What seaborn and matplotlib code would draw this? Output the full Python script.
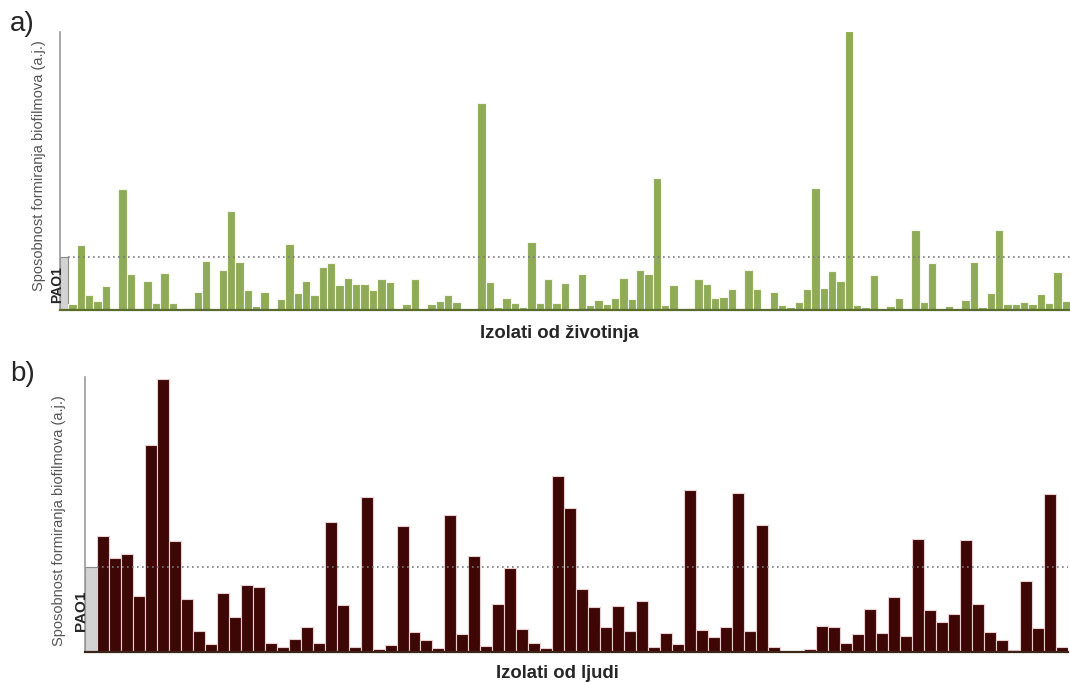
import numpy as np
import pandas as pd
import matplotlib
matplotlib.use("Agg")
import matplotlib.pyplot as plt
import seaborn as sns

sns.set_theme(style="white")
plt.rcParams["font.family"] = ["Liberation Sans", "DejaVu Sans"]

# Biofilm formation (arbitrary units); first value is the PAO1 reference strain
pao1_animal = 1.58
animal_isolates = [
    0.17, 1.95, 0.45, 0.28, 0.72, 0.00, 3.62, 1.08, 0.04, 0.88,
    0.20, 1.10, 0.20, 0.00, 0.06, 0.55, 1.48, 0.00, 1.20, 2.96,
    1.44, 0.60, 0.13, 0.54, 0.04, 0.34, 1.99, 0.52, 0.87, 0.44,
    1.28, 1.42, 0.75, 0.96, 0.77, 0.79, 0.60, 0.92, 0.85, 0.00,
    0.18, 0.94, 0.00, 0.18, 0.27, 0.45, 0.25, 0.04, 0.04, 6.21,
    0.85, 0.08, 0.37, 0.22, 0.08, 2.04, 0.22, 0.92, 0.20, 0.82,
    0.00, 1.07, 0.16, 0.29, 0.18, 0.37, 0.96, 0.33, 1.19, 1.08,
    3.95, 0.14, 0.76, 0.04, 0.05, 0.93, 0.79, 0.35, 0.39, 0.62,
    0.04, 1.19, 0.64, 0.00, 0.54, 0.14, 0.08, 0.25, 0.64, 3.65,
    0.67, 1.17, 0.87, 8.38, 0.14, 0.08, 1.05, 0.00, 0.12, 0.37,
    0.00, 2.39, 0.23, 1.42, 0.00, 0.12, 0.00, 0.29, 1.44, 0.10,
    0.52, 2.41, 0.18, 0.18, 0.23, 0.18, 0.49, 0.22, 1.15, 0.28,
]

pao1_human = 2.55
human_isolates = [
    3.50, 2.83, 2.95, 1.70, 6.22, 8.19, 3.35, 1.61, 0.65, 0.25,
    1.79, 1.06, 2.01, 1.96, 0.28, 0.15, 0.40, 0.75, 0.28, 3.90,
    1.41, 0.15, 4.66, 0.09, 0.22, 3.79, 0.60, 0.37, 0.14, 4.11,
    0.54, 2.89, 0.20, 1.44, 2.54, 0.69, 0.28, 0.14, 5.30, 4.34,
    1.91, 1.35, 0.77, 1.38, 0.65, 1.53, 0.15, 0.57, 0.25, 4.86,
    0.66, 0.46, 0.75, 4.78, 0.63, 3.83, 0.17, 0.05, 0.05, 0.11,
    0.78, 0.75, 0.28, 0.55, 1.30, 0.58, 1.65, 0.49, 3.39, 1.27,
    0.90, 1.15, 3.36, 1.45, 0.61, 0.37, 0.06, 2.14, 0.73, 4.75,
    0.15,
]

ylabel_text = "Sposobnost formiranja biofilmova (a.j.)"
ref_label = "PAO1"
xlabel_animal = "Izolati od životinja"
xlabel_human = "Izolati od ljudi"

W, H = 1070, 682
fig = plt.figure(figsize=(W / 100, H / 100), dpi=100)


def px_axes(left, top, right, bottom):
    return fig.add_axes([left / W, 1 - bottom / H, (right - left) / W, (bottom - top) / H])


def draw_panel(ax, ref_value, values, bar_color, edge_color, base_color, ymax):
    labels = [ref_label] + [f"I{i + 1}" for i in range(len(values))]
    df = pd.DataFrame({
        "soj": labels,
        "vrijednost": [ref_value] + list(values),
        "grupa": ["ref"] + ["izolat"] * len(values),
    })
    sns.barplot(data=df, x="soj", y="vrijednost", hue="grupa",
                palette={"ref": "#d3d3d3", "izolat": bar_color},
                width=1.0, dodge=False, legend=False, ax=ax,
                edgecolor=edge_color, linewidth=0.8, saturation=1)
    # reference bar gets a grey outline
    ax.patches[0].set_edgecolor("#8a8a8a")
    n = len(values) + 1
    ax.plot([0.5, n - 0.5], [ref_value, ref_value], linestyle=(0, (1, 2)),
            color="#7a7a7a", lw=1.2, zorder=5)
    ax.set_xlim(-0.5, n - 0.5)
    ax.set_ylim(0, ymax)
    ax.set_xticks([])
    ax.set_yticks([])
    ax.set_xlabel("")
    ax.set_ylabel("")
    for s in ("top", "right"):
        ax.spines[s].set_visible(False)
    ax.spines["left"].set_color("#9a9a9a")
    ax.spines["left"].set_linewidth(1.2)
    ax.spines["bottom"].set_color(base_color)
    ax.spines["bottom"].set_linewidth(1.6)
    ax.patch.set_alpha(0)


ax_a = px_axes(60, 31.7, 1070, 310)
draw_panel(ax_a, pao1_animal, animal_isolates, "#8fab57", "#f4f7ec", "#5a6b30", 8.35)

ax_b = px_axes(85, 377.3, 1067.5, 652.3)
draw_panel(ax_b, pao1_human, human_isolates, "#3e0605", "#e9cfcf", "#3b2418", 8.25)

# panel letters
fig.text(10 / W, 1 - 24 / H, "a)", fontsize=20, ha="left", va="center")
fig.text(10 / W, 1 - 374 / H, "b)", fontsize=20, ha="left", va="center")

# axis titles
fig.text(39 / W, 1 - 166 / H, ylabel_text, rotation=90, fontsize=10.5,
         color="#555555", ha="center", va="center")
fig.text(59 / W, 1 - 521 / H, ylabel_text, rotation=90, fontsize=10.5,
         color="#555555", ha="center", va="center")

fig.text(57 / W, 1 - 285 / H, ref_label, rotation=90, fontsize=10,
         fontweight="bold", ha="center", va="center")
fig.text(81 / W, 1 - 611 / H, ref_label, rotation=90, fontsize=11,
         fontweight="bold", ha="center", va="center")

fig.text(559 / W, 1 - 333 / H, xlabel_animal, fontsize=13.3, fontweight="bold",
         ha="center", va="center")
fig.text(557 / W, 1 - 673 / H, xlabel_human, fontsize=13.3, fontweight="bold",
         ha="center", va="center")

fig.savefig("out.png", dpi=100, facecolor="white")
